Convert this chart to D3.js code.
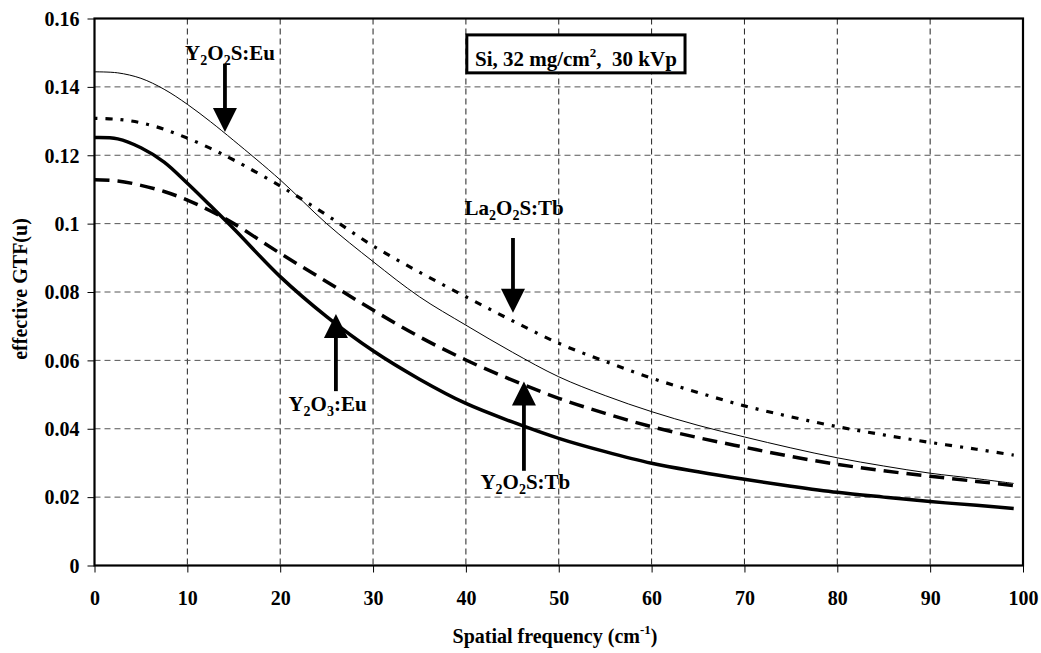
<!DOCTYPE html>
<html><head><meta charset="utf-8">
<script src="https://cdn.jsdelivr.net/npm/d3@7"></script>
<style>body{margin:0;background:#fff} svg{display:block}</style>
</head><body><svg id="c" width="1041" height="653"></svg>
<script>
// ---- data ----
const freq      = [0, 2.5, 5, 7.5, 10, 12.5, 15, 20, 25, 30, 35, 40, 45, 50, 55, 60, 65, 70, 75, 80, 85, 90, 95, 99];
const y2o2sEu   = [0.1444,0.1441,0.1425,0.1393,0.1349,0.1298,0.1243,0.1128,0.1000,0.0889,0.0786,0.0703,0.0624,0.0552,0.0497,0.0450,0.0410,0.0376,0.0344,0.0315,0.0291,0.0270,0.0254,0.0240];
const la2o2sTb  = [0.1308,0.1305,0.1295,0.1276,0.1250,0.1220,0.1186,0.1110,0.1025,0.0935,0.0858,0.0786,0.0716,0.0650,0.0597,0.0548,0.0506,0.0467,0.0435,0.0406,0.0382,0.0360,0.0340,0.0323];
const y2o2sTb   = [0.1128,0.1125,0.1112,0.1094,0.1069,0.1037,0.1000,0.0913,0.0830,0.0747,0.0669,0.0601,0.0542,0.0489,0.0445,0.0406,0.0374,0.0346,0.0319,0.0296,0.0277,0.0261,0.0246,0.0234];
const y2o3Eu    = [0.1252,0.1248,0.1222,0.1180,0.1118,0.1052,0.0985,0.0845,0.0728,0.0628,0.0545,0.0474,0.0420,0.0372,0.0333,0.0299,0.0274,0.0252,0.0232,0.0214,0.0200,0.0187,0.0176,0.0167];
const xTicks = [0,10,20,30,40,50,60,70,80,90,100];
const yTicks = [0,0.02,0.04,0.06,0.08,0.1,0.12,0.14,0.16];
const xTitle = "Spatial frequency (cm";
const yTitle = "effective GTF(u)";
const boxText = ["Si, 32 mg/cm", "2", ",  30 kVp"];
// label parts: [text, isSub]
const labels = [
  {parts:[["Y",0],["2",1],["O",0],["2",1],["S:Eu",0]], u:14.6, v:0.1479, arrow:{u:14.05, from:0.1468, to:0.1268}},
  {parts:[["La",0],["2",1],["O",0],["2",1],["S:Tb",0]], u:45.2, v:0.1025, arrow:{u:45.07, from:0.0958, to:0.0739}},
  {parts:[["Y",0],["2",1],["O",0],["3",1],[":Eu",0]], u:25.1, v:0.0453, arrow:{u:26.0, from:0.0510, to:0.0736}},
  {parts:[["Y",0],["2",1],["O",0],["2",1],["S:Tb",0]], u:46.4, v:0.0224, arrow:{u:46.25, from:0.0277, to:0.0538}}
];
const series = [
  {name:"Y2O2S:Eu", values:y2o2sEu, width:1, dash:null},
  {name:"La2O2S:Tb", values:la2o2sTb, width:3.2, dash:"3,8,7,8"},
  {name:"Y2O2S:Tb", values:y2o2sTb, width:3.5, dash:"15,8"},
  {name:"Y2O3:Eu", values:y2o3Eu, width:3.5, dash:null}
];

// ---- drawing ----
const FONT = "'Liberation Serif','Times New Roman',serif";
const svg = d3.select("#c");
svg.append("rect").attr("width",1041).attr("height",653).attr("fill","#fff");
const x = d3.scaleLinear().domain([0,100]).range([94.5,1023]);
const y = d3.scaleLinear().domain([0,0.16]).range([565.5,18.5]);

// gridlines
const grid = svg.append("g");
grid.selectAll(".vg").data(xTicks.filter(d=>d>0&&d<100)).enter().append("line")
  .attr("x1",d=>x(d)).attr("x2",d=>x(d)).attr("y1",y(0.16)).attr("y2",y(0))
  .attr("stroke","#222").attr("stroke-width",1).attr("stroke-dasharray","6,4");
grid.selectAll(".hg").data(yTicks.filter(d=>d>0&&d<0.16)).enter().append("line")
  .attr("y1",d=>y(d)).attr("y2",d=>y(d)).attr("x1",x(0)).attr("x2",x(100))
  .attr("stroke","#555").attr("stroke-width",1).attr("stroke-dasharray","6,4");

// axes
const fmt = d => String(+d.toFixed(2));
const ax = svg.append("g").attr("transform",`translate(0,${y(0)})`)
  .call(d3.axisBottom(x).tickValues(xTicks).tickSize(7).tickPadding(18).tickFormat(d=>d));
const ay = svg.append("g").attr("transform",`translate(${x(0)},0)`)
  .call(d3.axisLeft(y).tickValues(yTicks).tickSize(7).tickPadding(8).tickFormat(fmt));
[ax,ay].forEach(g=>{
  g.select(".domain").remove();
  g.selectAll("line").attr("stroke","#000").attr("stroke-width",1);
  g.selectAll("text").attr("font-family",FONT).attr("font-weight","bold").attr("font-size",20).attr("fill","#000");
});
ay.selectAll("text").attr("dy","0.34em");

// curves
const line = d3.line().x((d,i)=>x(freq[i])).y(d=>y(d)).curve(d3.curveCatmullRom.alpha(0.5));
svg.append("g").selectAll("path").data(series).enter().append("path")
  .attr("d",d=>line(d.values)).attr("fill","none").attr("stroke","#000")
  .attr("stroke-width",d=>d.width).attr("stroke-dasharray",d=>d.dash)
  .attr("stroke-linejoin","round");

// frame
svg.append("rect").attr("x",x(0)).attr("y",y(0.16)).attr("width",x(100)-x(0)).attr("height",y(0)-y(0.16))
  .attr("fill","none").attr("stroke","#000").attr("stroke-width",2.2);

// arrows + labels
const ann = svg.append("g");
labels.forEach(l=>{
  const a = l.arrow;
  const ax0 = x(a.u), yFrom = y(a.from), yTo = y(a.to);
  const dir = yTo > yFrom ? 1 : -1;
  const headLen = 24, headW = 12;
  ann.append("line").attr("x1",ax0).attr("x2",ax0).attr("y1",yFrom).attr("y2",yTo - dir*headLen+dir*2)
    .attr("stroke","#000").attr("stroke-width",3.8);
  ann.append("path").attr("d",`M${ax0},${yTo} L${ax0-headW},${yTo-dir*headLen} L${ax0+headW},${yTo-dir*headLen} Z`).attr("fill","#000");
  const t = ann.append("text").attr("x",x(l.u)).attr("y",y(l.v)).attr("text-anchor","middle")
    .attr("font-family",FONT).attr("font-weight","bold").attr("font-size",21).attr("fill","#000");
  let shifted = false;
  l.parts.forEach(([s,sub])=>{
    const ts = t.append("tspan").text(s);
    if(sub){ ts.attr("font-size",14).attr("dy",shifted?0:5); shifted=true; }
    else if(shifted){ ts.attr("dy",-5); shifted=false; }
  });
});

// box
const bx = svg.append("g");
const bt = bx.append("text").attr("x",x(51.85)).attr("y",y(0.1462)).attr("text-anchor","middle")
  .attr("font-family",FONT).attr("font-weight","bold").attr("font-size",21).attr("fill","#000");
bt.append("tspan").text(boxText[0]);
bt.append("tspan").text(boxText[1]).attr("font-size",13).attr("dy",-9);
bt.append("tspan").text(boxText[2]).attr("dy",9).attr("xml:space","preserve").style("white-space","pre");
bx.insert("rect","text").attr("x",x(40.1)).attr("y",y(0.1552)).attr("width",x(63.6)-x(40.1)).attr("height",y(0.1441)-y(0.1552))
  .attr("fill","#fff").attr("stroke","#000").attr("stroke-width",3);

// axis titles
const xt = svg.append("text").attr("x",555).attr("y",643).attr("text-anchor","middle")
  .attr("font-family",FONT).attr("font-weight","bold").attr("font-size",20).attr("fill","#000");
xt.append("tspan").text(xTitle);
xt.append("tspan").text("-1").attr("font-size",13).attr("dy",-9);
xt.append("tspan").text(")").attr("dy",9);
svg.append("text").attr("transform","translate(27,289) rotate(-90)").attr("text-anchor","middle")
  .attr("font-family",FONT).attr("font-weight","bold").attr("font-size",20).attr("fill","#000").text(yTitle);
</script></body></html>
